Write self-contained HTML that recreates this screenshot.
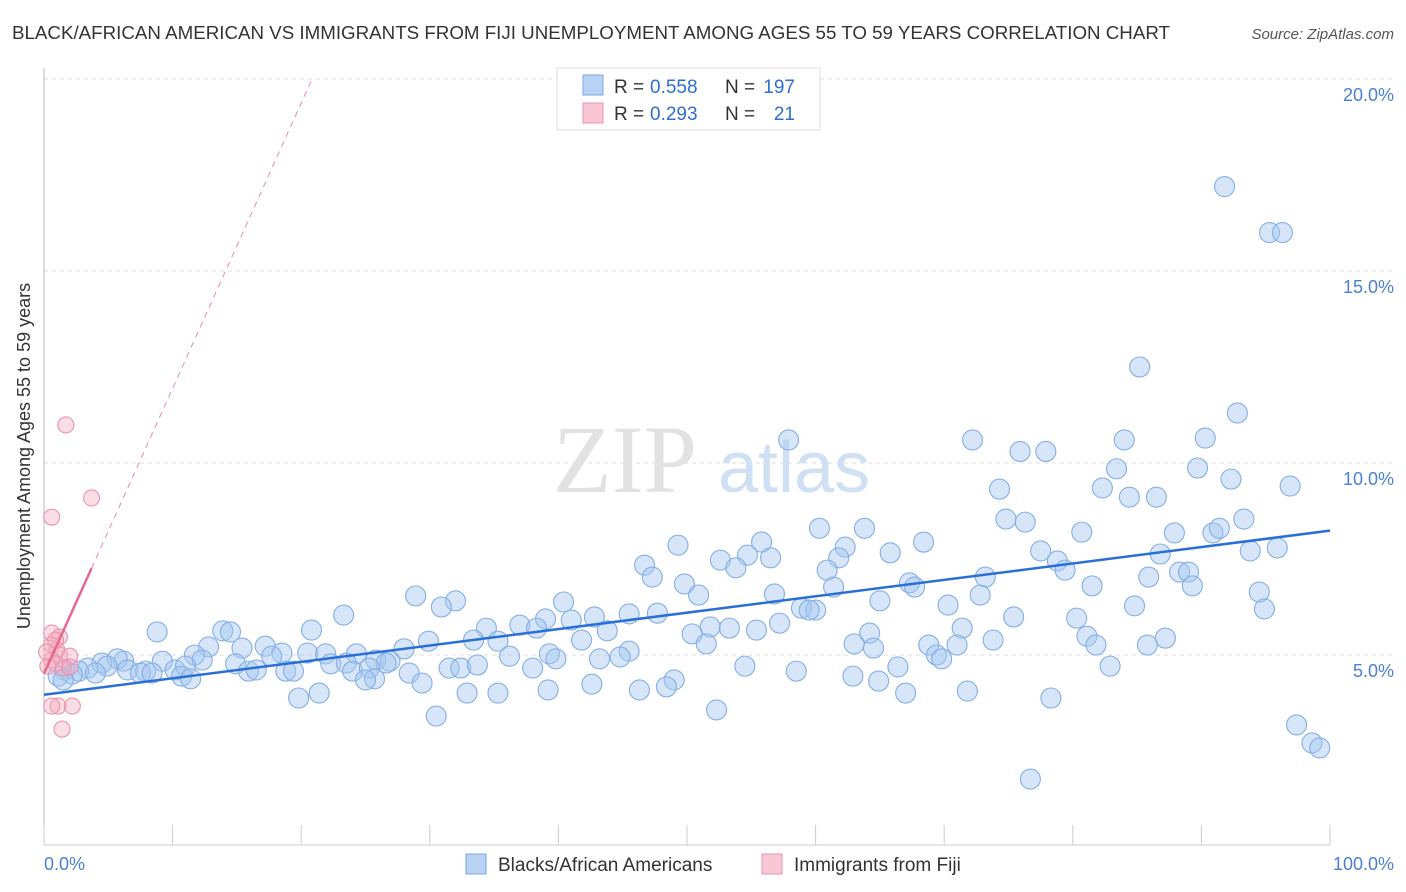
<!DOCTYPE html>
<html><head><meta charset="utf-8"><style>
body{margin:0;background:#fff;font-family:"Liberation Sans",sans-serif;}
svg{display:block}
</style></head><body>
<svg id="chart" width="1406" height="892" xmlns="http://www.w3.org/2000/svg">
<text x="12" y="39" font-size="18" fill="#333" textLength="1158" lengthAdjust="spacingAndGlyphs">BLACK/AFRICAN AMERICAN VS IMMIGRANTS FROM FIJI UNEMPLOYMENT AMONG AGES 55 TO 59 YEARS CORRELATION CHART</text>
<text x="1394" y="39" font-size="15" fill="#555" font-style="italic" text-anchor="end">Source: ZipAtlas.com</text>
<g id="grid"></g>
<text x="553" y="492" font-size="96" font-family="Liberation Serif,serif" fill="#e2e2e2">ZIP</text>
<text x="718" y="492" font-size="72" fill="#cfe0f5">atlas</text>
<line x1="44" y1="68" x2="44" y2="845" stroke="#bbb"/>
<line x1="44" y1="845" x2="1330" y2="845" stroke="#ccc"/>
<g id="ticks"></g>
<g id="marks"></g>
<text x="30" y="456" font-size="18" fill="#333" text-anchor="middle" transform="rotate(-90 30 456)">Unemployment Among Ages 55 to 59 years</text>
<text x="44" y="870" font-size="18" fill="#4a7fd4">0.0%</text>
<text x="1394" y="870" font-size="18" fill="#4a7fd4" text-anchor="end">100.0%</text>
<g>
<rect x="557" y="68" width="263" height="62" fill="#fff" stroke="#ddd"/>
<rect x="583" y="75" width="20" height="20" fill="#b8d2f4" stroke="#7aa6e0"/>
<rect x="583" y="103" width="20" height="20" fill="#f8c6d4" stroke="#e995ae"/>
<g font-size="19" fill="#333">
<text x="614" y="93">R =</text>
<text x="650" y="93" fill="#2f6fd0">0.558</text>
<text x="725" y="93">N =</text>
<text x="795" y="93" fill="#2f6fd0" text-anchor="end">197</text>
<text x="614" y="120">R =</text>
<text x="650" y="120" fill="#2f6fd0">0.293</text>
<text x="725" y="120">N =</text>
<text x="795" y="120" fill="#2f6fd0" text-anchor="end">21</text>
</g>
</g>
<g>
<rect x="466" y="854" width="20" height="20" fill="#b8d2f4" stroke="#7aa6e0"/>
<text x="498" y="871" font-size="19" fill="#333">Blacks/African Americans</text>
<rect x="762" y="854" width="20" height="20" fill="#f8c6d4" stroke="#e995ae"/>
<text x="794" y="871" font-size="19" fill="#333">Immigrants from Fiji</text>
</g>
</svg>
<script>
const yTicks=[5,10,15,20];
const yTickLabels=["5.0%","10.0%","15.0%","20.0%"];
const blueX=[91.8,95.3,96.3,85.2,92.8,57.9,72.2,84.0,90.3,75.9,77.9,83.4,89.7,92.3,96.9,74.3,82.3,84.4,86.5,74.8,76.3,93.3,80.7,87.9,90.9,91.4,60.3,63.8,49.3,55.8,68.4,62.3,65.8,77.5,93.8,95.9,86.8,54.7,56.5,52.6,61.8,78.8,79.4,46.7,47.3,53.8,60.9,73.2,85.9,88.3,89.0,49.8,61.4,67.3,67.7,81.5,89.3,50.9,56.8,40.4,28.9,32.0,30.9,70.3,84.8,94.5,94.9,65.0,58.9,60.0,59.5,23.3,42.8,45.5,47.7,41.0,39.0,75.4,80.3,72.8,37.0,38.3,34.4,57.2,51.8,41.8,43.8,71.4,73.8,87.2,81.1,53.3,55.4,50.4,64.2,8.8,13.9,14.5,20.8,33.4,29.9,35.3,51.5,81.8,85.8,68.8,71.0,64.5,63.0,15.4,17.2,12.8,36.2,39.3,45.5,43.2,44.8,39.8,28.0,25.8,26.9,18.5,20.5,21.9,24.3,22.3,23.5,26.6,69.4,69.8,17.7,11.7,9.2,12.3,6.2,5.7,4.5,4.9,3.4,1.6,2.7,2.2,1.1,1.5,4.0,6.5,7.9,7.5,8.4,10.2,11.0,10.7,11.4,14.9,15.9,16.5,18.8,19.4,24.0,25.3,25.7,25.0,28.4,31.5,32.4,33.7,38.0,54.5,58.5,66.4,62.9,64.9,49.0,82.9,29.4,42.6,46.3,48.4,39.2,35.3,32.9,21.4,19.8,71.8,78.3,67.0,52.3,30.5,97.4,98.6,99.2,76.7];
const blueY=[17.2,16.0,16.0,12.5,11.3,10.6,10.6,10.6,10.65,10.3,10.3,9.85,9.87,9.58,9.4,9.32,9.35,9.11,9.11,8.54,8.46,8.54,8.2,8.18,8.18,8.3,8.3,8.3,7.86,7.94,7.94,7.81,7.66,7.71,7.71,7.79,7.63,7.6,7.53,7.47,7.53,7.45,7.21,7.34,7.03,7.27,7.21,7.03,7.03,7.16,7.16,6.85,6.77,6.88,6.77,6.8,6.8,6.56,6.59,6.38,6.54,6.41,6.25,6.3,6.28,6.64,6.2,6.41,6.22,6.17,6.17,6.04,5.99,6.07,6.09,5.91,5.94,5.99,5.96,6.56,5.78,5.7,5.7,5.83,5.73,5.39,5.63,5.7,5.39,5.44,5.49,5.7,5.65,5.55,5.57,5.6,5.63,5.6,5.65,5.39,5.36,5.36,5.29,5.26,5.26,5.26,5.26,5.18,5.29,5.18,5.23,5.21,4.97,5.03,5.1,4.9,4.95,4.9,5.16,4.87,4.84,5.05,5.05,5.03,5.03,4.77,4.79,4.79,5.0,4.9,4.97,5.0,4.84,4.87,4.84,4.9,4.79,4.71,4.66,4.61,4.58,4.5,4.45,4.35,4.53,4.61,4.58,4.53,4.53,4.61,4.71,4.45,4.38,4.77,4.58,4.61,4.58,4.58,4.58,4.66,4.38,4.35,4.53,4.66,4.66,4.74,4.66,4.71,4.58,4.69,4.45,4.32,4.35,4.71,4.27,4.24,4.09,4.17,4.09,4.01,4.01,4.01,3.88,4.06,3.88,4.01,3.57,3.41,3.18,2.71,2.58,1.77];
const pinkX=[0.6,1.7,3.7,0.6,1.2,0.6,1.0,1.2,2.0,0.6,0.9,1.5,0.3,2.0,1.1,0.6,2.2,1.4,0.9,0.2];
const pinkY=[8.59,10.99,9.09,5.57,5.47,5.26,5.13,5.0,4.97,4.87,4.77,4.66,4.71,4.69,3.67,3.67,3.67,3.07,5.39,5.08];
const NS='http://www.w3.org/2000/svg';
const xs=v=>44+v*12.86, ys=v=>847-v*38.4;
function mk(tag,attrs,parent){const e=document.createElementNS(NS,tag);for(const k in attrs)e.setAttribute(k,attrs[k]);parent.appendChild(e);return e;}
const grid=document.getElementById('grid'),ticks=document.getElementById('ticks'),marks=document.getElementById('marks');
yTicks.forEach((t,i)=>{
 const l=mk('line',{x1:44,x2:1394,y1:ys(t),y2:ys(t),stroke:'#ddd','stroke-dasharray':'4,4'},grid);
 
 
 const tx=mk('text',{x:1394,y:ys(t)+22,'font-size':18,fill:'#4a7fd4','text-anchor':'end'},grid);
 tx.textContent=yTickLabels[i];
 
 
});
for(let i=0;i<=10;i++){
 const l=mk('line',{x1:xs(i*10),x2:xs(i*10),y1:825,y2:845,stroke:'#ccc'},ticks);
 
 
}
function fit(X,Y){const n=X.length;let mx=0,my=0;for(let i=0;i<n;i++){mx+=X[i];my+=Y[i];}mx/=n;my/=n;let sxy=0,sxx=0;for(let i=0;i<n;i++){sxy+=(X[i]-mx)*(Y[i]-my);sxx+=(X[i]-mx)**2;}const b=sxy/sxx;return [my-b*mx,b];}
blueX.forEach((x,i)=>{
 const c=mk('circle',{cx:xs(x),cy:ys(blueY[i]),r:10,fill:'rgba(165,199,240,0.45)',stroke:'#85aee4','stroke-width':1.1},marks);
 
 
});
pinkX.forEach((x,i)=>{
 const c=mk('circle',{cx:xs(x),cy:ys(pinkY[i]),r:8,fill:'rgba(244,170,190,0.4)',stroke:'#e995ae','stroke-width':1.1},marks);
 
 
});
const [ba,bb]=fit(blueX,blueY);
const bl=mk('line',{x1:xs(0),y1:ys(ba),x2:xs(100),y2:ys(ba+bb*100),stroke:'#2a6fd6','stroke-width':2.5},marks);


const [pa,pb]=fit(pinkX,pinkY);
const pmax=Math.max(...pinkX);
const pl=mk('line',{x1:xs(0),y1:ys(pa),x2:xs(pmax),y2:ys(pa+pb*pmax),stroke:'#e8688f','stroke-width':2.5},marks);


const xe=(20-pa)/pb;
const pd=mk('line',{x1:xs(pmax),y1:ys(pa+pb*pmax),x2:xs(xe),y2:ys(20),stroke:'#eb8aa8','stroke-width':1,'stroke-dasharray':'6,5'},marks);


</script>
</body></html>
